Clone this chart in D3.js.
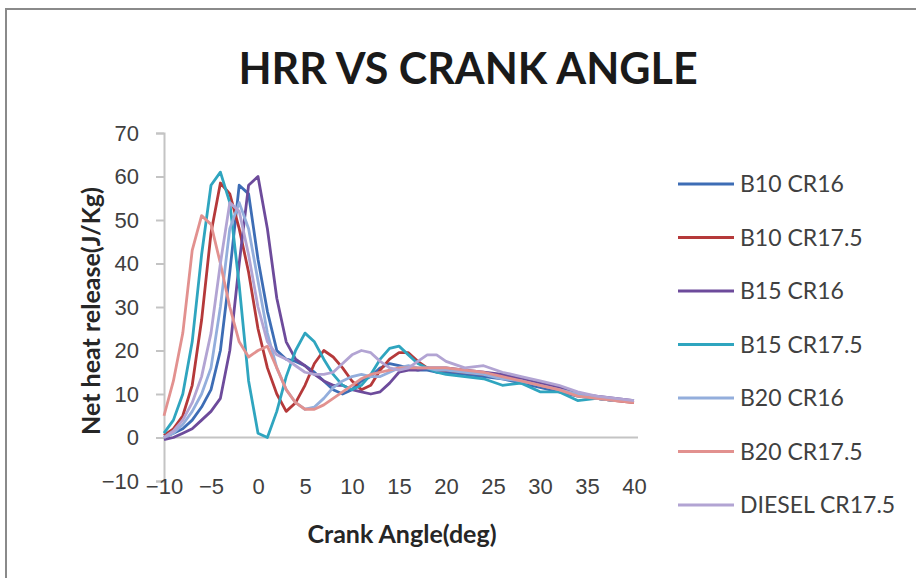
<!DOCTYPE html>
<html>
<head>
<meta charset="utf-8">
<script src="https://d3js.org/d3.v7.min.js"></script>
<style>
  body { margin: 0; background: #fff; }
  svg { display: block; font-family: Lato, "Open Sans", sans-serif; }
  .tick text { fill: #404040; font-size: 22px; }
</style>
</head>
<body>
<svg id="chart" width="916" height="578"></svg>
<script>
// crank angle (deg)
var angles = [-10,-9,-8,-7,-6,-5,-4,-3,-2,-1,0,1,2,3,4,5,6,7,8,9,10,
              11,12,13,14,15,16,17,18,19,20,22,24,26,28,30,32,34,36,38,40];

var b10cr16   = [0,1,2,4,7,11,20,38,58,56,41,29,20,18,17.5,16.5,15,13,11,10,11,
                 13,14,16,17,16.5,16,15.5,15.5,15,15,14.5,14,13.5,12.5,11.5,10.5,9.5,9,8.5,8.5];
var b10cr175  = [0.5,2,5,12,27,47,58.5,56,48,38,25,16,10,6,8,12,17,20,18.5,16,13,
                 11,12,15.5,18,19.5,19.5,17.5,16,15.5,15.5,15,14.5,14,13.5,12,11,10,9,8.5,8];
var b15cr16   = [-0.5,0,1,2,4,6,9,20,40,58,60,48,32,22,18,16.5,14.5,13,12,12,11,
                 10.5,10,10.5,12.5,15,15.5,15.5,16,16,16,15.5,15,14.5,13.5,12.5,11.5,10,9.5,9,8.5];
var b15cr175  = [1,4,10,22,42,58,61,54,35,13,1,0,6,14,20,24,22,18,14.5,12,11,
                 12,14.5,18,20.5,21,19,17,16,15,14.5,14,13.5,12,12.5,10.5,10.5,8.5,9,8.5,8.5];
var b20cr16   = [0,1,3,6,10,16,30,48,54,48,36,24,16,11,8,6.5,7,9,11.5,13,14,
                 14.5,14,14,15,16,16.5,16,16,15.5,15.5,15,14.5,13.5,13,12,11,10,9,8.5,8.5];
var b20cr175  = [5,13,24,43,51,49,40,30,22,18.5,20,21,16,11,8,6.5,6.5,7.5,9,10.5,12,
                 13.5,14.5,15,15.5,16,16,16,16,16,16,15.5,15,14,13,12,11,9.5,9,8.5,8];
var dieselcr175 = [0,1.5,4,8,14,24,40,54,52,42,30,22,19,18,16.5,15,14.5,14.5,15,17,19,
                 20,19.5,17.5,16,15.5,16,17.5,19,19,17.5,16,16.5,15,14,13,12,10.5,9.5,9,8.5];

var seriesNames = ["B10 CR16","B10 CR17.5","B15 CR16","B15 CR17.5","B20 CR16","B20 CR17.5","DIESEL CR17.5"];
var seriesValues = [b10cr16, b10cr175, b15cr16, b15cr175, b20cr16, b20cr175, dieselcr175];
var colors = ["#3D6DB5","#B5393A","#6D4B9B","#2FA5BF","#93AEDC","#E2918F","#B2A4D3"];

var xTicks = [-10,-5,0,5,10,15,20,25,30,35,40];
var yTicks = [-10,0,10,20,30,40,50,60,70];

var svg = d3.select("#chart");

// outer chart frame
svg.append("rect")
  .attr("x", 6).attr("y", 9)
  .attr("width", 940).attr("height", 600)
  .attr("fill", "none")
  .attr("stroke", "#8a8a8a")
  .attr("stroke-width", 2);

var x = d3.scaleLinear().domain([-10, 40]).range([164, 634]);
var y = d3.scaleLinear().domain([-10, 70]).range([481, 133]);

// y axis
var yAxis = svg.append("g")
  .attr("transform", "translate(" + x(-10) + ",0)")
  .call(d3.axisLeft(y).tickValues(yTicks).tickSize(8).tickPadding(17));
yAxis.select(".domain").attr("stroke", "#c4c4c4").attr("stroke-width", 2);
yAxis.selectAll(".tick line").attr("stroke", "#c4c4c4").attr("stroke-width", 2);

// x axis line at y = 0, labels at the bottom
svg.append("line")
  .attr("x1", x(-10)).attr("x2", 638)
  .attr("y1", y(0)).attr("y2", y(0))
  .attr("stroke", "#c4c4c4").attr("stroke-width", 2);

var xAxis = svg.append("g")
  .attr("transform", "translate(0," + y(-10) + ")")
  .call(d3.axisBottom(x).tickValues(xTicks).tickSize(0).tickPadding(-3));
xAxis.select(".domain").remove();

// lines
var line = d3.line()
  .x(function(d, i) { return x(angles[i]); })
  .y(function(d) { return y(d); });

seriesValues.forEach(function(vals, k) {
  svg.append("path")
    .datum(vals)
    .attr("d", line)
    .attr("fill", "none")
    .attr("stroke", colors[k])
    .attr("stroke-width", 2.8)
    .attr("stroke-linejoin", "round");
});

// titles
svg.append("text")
  .attr("x", 468).attr("y", 84)
  .attr("text-anchor", "middle")
  .attr("font-size", 43).attr("font-weight", "bold")
  .attr("fill", "#1a1a1a")
  .text("HRR VS CRANK ANGLE");

svg.append("text")
  .attr("x", 402).attr("y", 543)
  .attr("text-anchor", "middle")
  .attr("font-size", 25).attr("font-weight", "bold")
  .attr("fill", "#262626")
  .text("Crank Angle(deg)");

svg.append("text")
  .attr("transform", "translate(100,311) rotate(-90)")
  .attr("text-anchor", "middle")
  .attr("font-size", 25).attr("font-weight", "bold")
  .attr("fill", "#262626")
  .text("Net heat release(J/Kg)");

// legend
var legend = svg.append("g").selectAll("g")
  .data(seriesNames)
  .enter().append("g")
  .attr("transform", function(d, i) { return "translate(678," + (184 + i * 53.5) + ")"; });

legend.append("line")
  .attr("x1", 0).attr("x2", 56)
  .attr("stroke", function(d, i) { return colors[i]; })
  .attr("stroke-width", 3);

legend.append("text")
  .attr("x", 62).attr("y", 8)
  .attr("font-size", 23)
  .attr("fill", "#404040")
  .text(function(d) { return d; });
</script>
</body>
</html>
